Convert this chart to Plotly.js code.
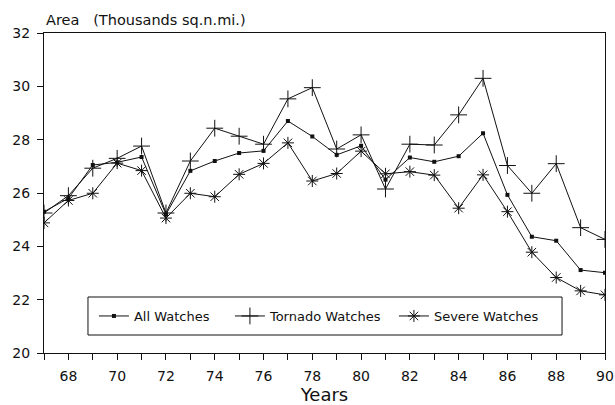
<!DOCTYPE html>
<html>
<head>
<meta charset="utf-8">
<script src="https://cdn.plot.ly/plotly-3.0.1.min.js"></script>
<style>html,body{margin:0;padding:0;background:#fff;}#chart{width:615px;height:405px;}</style>
</head>
<body>
<div id="chart"></div>
<script>
const years = [67,68,69,70,71,72,73,74,75,76,77,78,79,80,81,82,83,84,85,86,87,88,89,90];
const allWatches = [25.3,25.8,27.05,27.15,27.35,25.2,26.83,27.2,27.5,27.58,28.7,28.12,27.43,27.77,26.5,27.33,27.17,27.38,28.24,25.93,24.36,24.21,23.11,23.01];
const tornadoWatches = [25.25,25.9,26.93,27.3,27.76,25.25,27.2,28.43,28.13,27.83,29.53,29.95,27.65,28.18,26.15,27.83,27.8,28.93,30.3,27.03,25.99,27.1,24.7,24.26];
const severeWatches = [24.88,25.72,25.99,27.12,26.84,25.06,25.99,25.86,26.7,27.11,27.88,26.45,26.73,27.57,26.72,26.8,26.67,25.43,26.68,25.3,23.78,22.83,22.33,22.18];
const seriesNames = ["All Watches","Tornado Watches","Severe Watches"];
const yTitle = "Area&nbsp;&nbsp;&nbsp;(Thousands sq.n.mi.)";
const xTitle = "Years";

const font = "DejaVu Sans, Liberation Sans, Arial, sans-serif";
const traces = [
  {x: years, y: allWatches, name: seriesNames[0], mode: "lines+markers", legendwidth: 91,
   line: {color: "#111", width: 1}, marker: {symbol: "square", size: 4, color: "#111"}},
  {x: years, y: tornadoWatches, name: seriesNames[1], mode: "lines+markers", legendwidth: 119,
   line: {color: "#111", width: 1}, marker: {symbol: "cross-thin-open", size: 12, color: "#111", line: {color: "#111", width: 1}}},
  {x: years, y: severeWatches, name: seriesNames[2], mode: "lines+markers",
   line: {color: "#111", width: 1}, marker: {symbol: "asterisk-open", size: 10, color: "#111", line: {color: "#111", width: 1}}}
];
const layout = {
  width: 615, height: 405,
  margin: {l: 44, r: 10, t: 33, b: 52},
  paper_bgcolor: "#fff", plot_bgcolor: "#fff",
  font: {family: font, color: "#111", size: 14},
  showlegend: true,
  legend: {orientation: "h", x: 0.089, y: 0.1156, xanchor: "left", yanchor: "middle",
    borderwidth: 0, bgcolor: "rgba(0,0,0,0)",
    font: {family: font, size: 13, color: "#111"}, itemwidth: 30},
  shapes: [{type: "rect", xref: "paper", yref: "paper", x0: 0.0784, x1: 0.9234, y0: 0.05625, y1: 0.175,
    line: {color: "#111", width: 1}, fillcolor: "#fff", layer: "above"}],
  xaxis: {range: [67, 90], tick0: 68, dtick: 2, ticks: "outside", ticklen: 6, tickwidth: 1, tickcolor: "#111",
    minor: {dtick: 1, tick0: 67, ticks: "outside", ticklen: 6, tickcolor: "#111", showgrid: false},
    ticklabelstandoff: 4,
    showline: true, linecolor: "#111", linewidth: 1, mirror: true, showgrid: false, zeroline: false,
    tickfont: {size: 14}, title: {text: xTitle, font: {size: 18}, standoff: 10}},
  yaxis: {range: [20, 32], dtick: 2, ticks: "outside", ticklen: 6, tickwidth: 1, tickcolor: "#111",
    ticklabelstandoff: 4,
    showline: true, linecolor: "#111", linewidth: 1, mirror: true, showgrid: false, zeroline: false,
    tickfont: {size: 14}},
  annotations: [{text: yTitle, xref: "paper", yref: "paper", x: 0.0, y: 1.0, xanchor: "left", yanchor: "bottom",
    yshift: 3, showarrow: false, font: {size: 14.5, color: "#111"}}]
};
Plotly.newPlot("chart", traces, layout, {displayModeBar: false, staticPlot: true});
</script>
</body>
</html>
